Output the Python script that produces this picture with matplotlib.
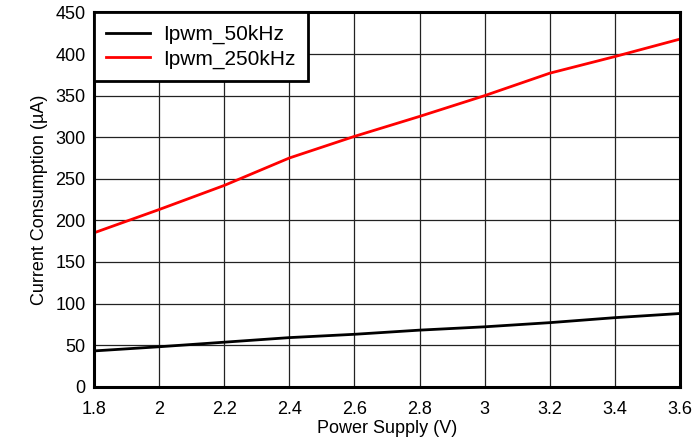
import matplotlib
matplotlib.use("Agg")
import matplotlib.pyplot as plt

plt.rcParams['font.family'] = ['Liberation Sans', 'DejaVu Sans']

supply_v = [1.8, 2.0, 2.2, 2.4, 2.6, 2.8, 3.0, 3.2, 3.4, 3.6]
ipwm_50k = [43, 48, 53.5, 59, 63, 68, 72, 77, 83, 88]
ipwm_250k = [185, 213, 242, 275, 301, 325, 350, 377, 397, 418]

fig = plt.figure(figsize=(6.96, 4.46), dpi=100)
ax = fig.add_axes([0.135, 0.133, 0.842, 0.839])

ax.plot(supply_v, ipwm_50k, color='black', lw=2, label='Ipwm_50kHz')
ax.plot(supply_v, ipwm_250k, color='#ff0000', lw=2, label='Ipwm_250kHz')

ax.set_xlim(1.8, 3.6)
ax.set_ylim(0, 450)
ax.set_xticks([1.8, 2, 2.2, 2.4, 2.6, 2.8, 3, 3.2, 3.4, 3.6])
ax.set_xticklabels(['1.8', '2', '2.2', '2.4', '2.6', '2.8', '3', '3.2', '3.4', '3.6'])
ax.set_yticks(range(0, 451, 50))
ax.grid(True, color='#222222', lw=0.9)
ax.tick_params(axis='x', length=0, labelsize=13, pad=10)
ax.tick_params(axis='y', length=0, labelsize=13, pad=6)
for s in ax.spines.values():
    s.set_linewidth(2.2)

ax.set_xlabel('Power Supply (V)', fontsize=13, labelpad=2)
ax.set_ylabel('Current Consumption (µA)', fontsize=13, labelpad=5)

leg = ax.legend(loc='upper left', fontsize=15, fancybox=False, framealpha=1,
                edgecolor='black', borderaxespad=0, handlelength=2.1,
                borderpad=0.6, labelspacing=0.25, handletextpad=0.6)
leg.get_frame().set_linewidth(2)

fig.savefig('out.png', dpi=100)
